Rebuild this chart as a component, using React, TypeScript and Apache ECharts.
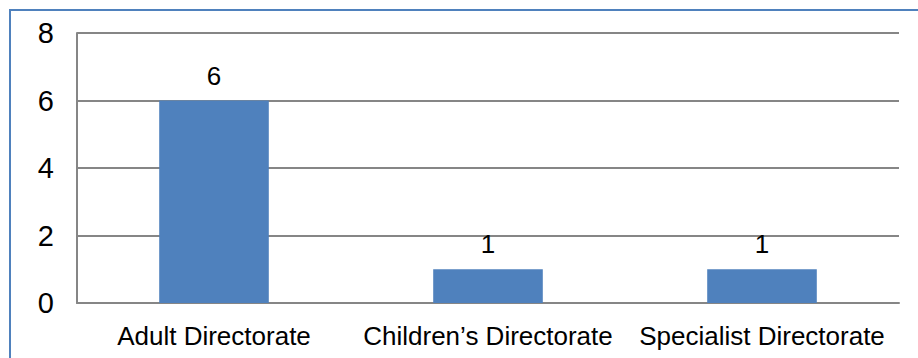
import React, { useEffect, useRef } from "react";
import * as echarts from "echarts";

const categories = ["Adult Directorate", "Children’s Directorate", "Specialist Directorate"];
const values = [6, 1, 1];
const yTicks = { min: 0, max: 8, interval: 2 };

export default function App() {
  const ref = useRef<HTMLDivElement>(null);
  useEffect(() => {
    if (!ref.current) return;
    const chart = echarts.init(ref.current, undefined, { renderer: "svg" });
    const font = "Liberation Sans, Arial, sans-serif";
    chart.setOption({
      animation: false,
      backgroundColor: "#ffffff",
      grid: { left: 77, top: 33, right: 19, bottom: 55, containLabel: false },
      graphic: [
        {
          type: "rect",
          shape: { x: 10, y: 10, width: 1000, height: 1000 },
          style: { fill: "none", stroke: "#4F81BD", lineWidth: 2 },
          silent: true,
        },
      ],
      xAxis: {
        type: "category",
        data: categories,
        axisLine: { show: true, lineStyle: { color: "#868686", width: 2 } },
        axisTick: { show: false },
        axisLabel: { color: "#000", fontFamily: font, fontSize: 26, margin: 20, interval: 0 },
      },
      yAxis: {
        type: "value",
        min: yTicks.min,
        max: yTicks.max,
        interval: yTicks.interval,
        axisLine: { show: true, lineStyle: { color: "#868686", width: 2 } },
        axisTick: { show: false },
        splitLine: { show: true, lineStyle: { color: "#868686", width: 2 } },
        axisLabel: { color: "#000", fontFamily: font, fontSize: 29, margin: 23 },
      },
      series: [
        {
          type: "bar",
          data: values,
          barWidth: "40%",
          itemStyle: { color: "#4F81BD" },
          label: {
            show: true,
            position: "top",
            distance: 12,
            color: "#000",
            fontFamily: font,
            fontSize: 26,
          },
        },
      ],
    });
    return () => chart.dispose();
  }, []);
  return (
    <div
      ref={ref}
      style={{ position: "fixed", left: 0, top: 0, width: 918, height: 358, background: "#fff" }}
    />
  );
}
